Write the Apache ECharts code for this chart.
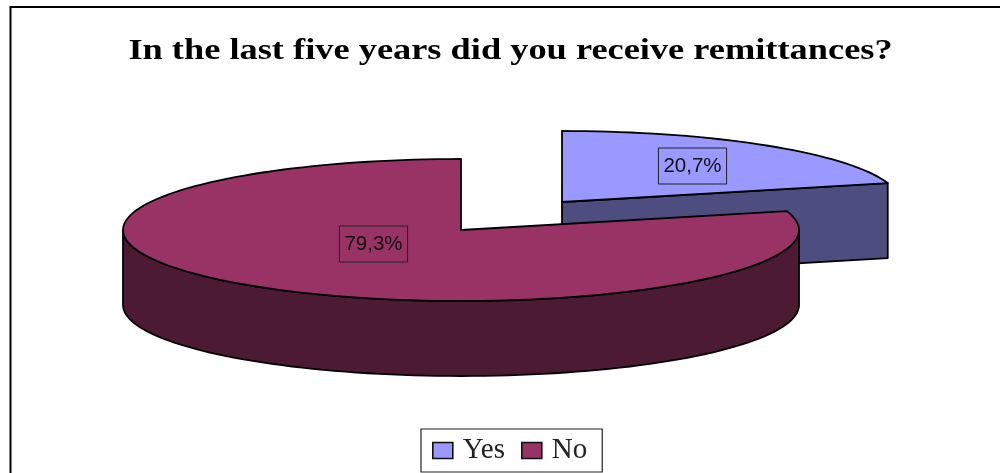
<!DOCTYPE html>
<html>
<head>
<meta charset="utf-8">
<style>html,body{margin:0;padding:0;background:#fff}#chart{width:1000px;height:473px}</style>
<script src="https://cdn.jsdelivr.net/npm/echarts@6/dist/echarts.min.js"></script>
</head>
<body>
<div id="chart"></div>
<script>
const titleText = 'In the last five years did you receive remittances?';
const categories = ['Yes', 'No'];
const shares = [20.7, 79.3];
const topColors = ['#9999FF', '#993366'];
const wallColors = ['#4D4D80', '#4D1A33'];

// Flat projection of the disc: apex of each slice, radii of the ellipse, wall height.
const apexes = [[562, 202], [461, 230]];
const labelSpots = [[692.5, 166], [373.5, 244]];
const RX = 338, RY = 71, DEPTH = 75;

const total = shares.reduce((a, b) => a + b, 0);
const rim = (c, deg, dy) => {
  const a = deg * Math.PI / 180;
  return [c[0] + RX * Math.sin(a), c[1] - RY * Math.cos(a) + (dy || 0)];
};
const arc = (c, from, to, dy) => {
  const pts = [];
  const n = Math.max(2, Math.ceil(Math.abs(to - from) / 2));
  for (let i = 0; i <= n; i++) pts.push(rim(c, from + (to - from) * i / n, dy));
  return pts;
};

function sliceItem(idx) {
  return function (params, api) {
    const before = shares.slice(0, idx).reduce((a, b) => a + b, 0);
    const start = before / total * 360;
    const end = start + api.value(0) / total * 360;
    const c = apexes[idx];
    const line = { stroke: '#000', lineWidth: 1.8, lineJoin: 'round' };
    const walls = [];
    if (idx === 0) {
      // The cut face turned to the viewer: apex to rim, pushed down by the wall height.
      const p = rim(c, end);
      walls.push([c, p, [p[0], p[1] + DEPTH], [c[0], c[1] + DEPTH]]);
    } else {
      // The rounded front of the disc.
      const from = Math.max(start, 90), to = Math.min(end, 270);
      walls.push(arc(c, from, to).concat(arc(c, to, from, DEPTH)));
    }
    const children = walls.map(points => ({
      type: 'polygon',
      shape: { points },
      style: Object.assign({ fill: wallColors[idx] }, line)
    }));
    children.push({
      type: 'polygon',
      shape: { points: [c].concat(arc(c, start, end)) },
      style: Object.assign({ fill: topColors[idx] }, line)
    });
    children.push({
      type: 'text',
      x: labelSpots[idx][0],
      y: labelSpots[idx][1],
      style: {
        text: api.value(0).toFixed(1).replace('.', ',') + '%',
        font: '20.5px "Liberation Sans", Arial, sans-serif',
        fill: '#111',
        align: 'center',
        verticalAlign: 'middle',
        borderColor: '#222',
        borderWidth: 1,
        padding: [8, 5, 7, 5]
      }
    });
    return { type: 'group', children };
  };
}

const chart = echarts.init(document.getElementById('chart'), null, { renderer: 'canvas' });
chart.setOption({
  animation: false,
  backgroundColor: '#fff',
  legend: {
    left: 421,
    top: 429,
    padding: [7, 15, 7, 11],
    itemWidth: 20,
    itemHeight: 16,
    itemGap: 16,
    borderColor: '#222',
    borderWidth: 1.2,
    icon: 'rect',
    itemStyle: { borderColor: '#111', borderWidth: 1.6 },
    textStyle: { fontFamily: '"Liberation Serif", serif', fontSize: 29, color: '#222', padding: [0, 0, 0, 5] },
    data: categories
  },
  graphic: [
    {
      type: 'polyline',
      silent: true,
      shape: { points: [[10.5, 473], [10.5, 7], [1000, 7]] },
      style: { stroke: '#000', lineWidth: 2, fill: null }
    },
    {
      type: 'text',
      silent: true,
      x: 510.5,
      y: 52,
      scaleX: 1.254,
      style: {
        text: titleText,
        font: 'bold 29px "Liberation Serif", serif',
        fill: '#000',
        align: 'center',
        verticalAlign: 'middle'
      }
    }
  ],
  series: categories.map((name, i) => ({
    type: 'custom',
    name,
    coordinateSystem: 'none',
    silent: true,
    itemStyle: { color: topColors[i] },
    renderItem: sliceItem(i),
    z: 2 + i,
    data: [[shares[i]]]
  }))
});
</script>
</body>
</html>
